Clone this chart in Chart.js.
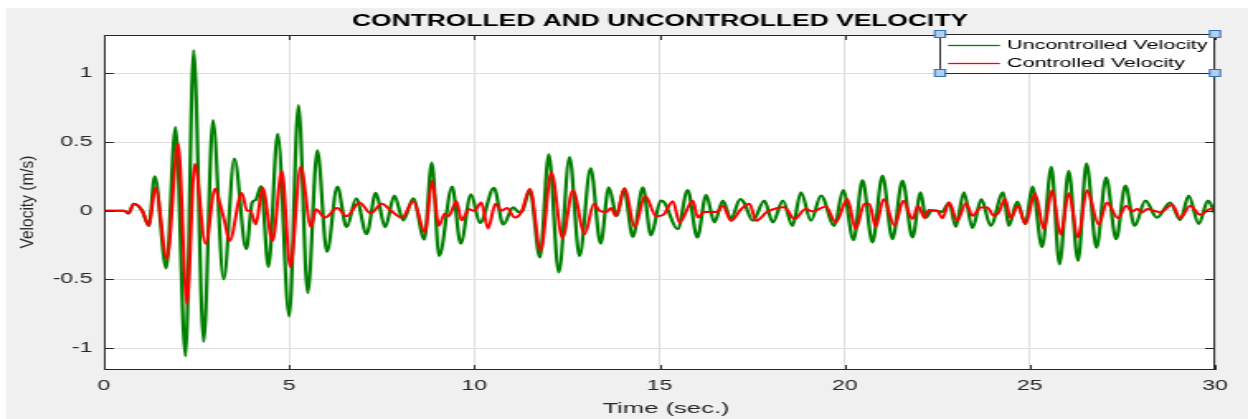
<!DOCTYPE html>
<html>
<head>
<meta charset="utf-8">
<title>Controlled and Uncontrolled Velocity</title>
<script src="https://cdn.jsdelivr.net/npm/chart.js@4.4.1/dist/chart.umd.min.js"></script>
<style>
  html, body { margin: 0; padding: 0; background: #fff; }
  #velocityChart { display: block; width: 1248px; height: 419px; }
</style>
</head>
<body>
<canvas id="velocityChart" width="756" height="419" style="width:1248px;height:419px"></canvas>
<script>
// time (s) / velocity (m/s)
const timeUncontrolled = [0, 0.55, 0.66, 0.80, 1.03, 1.21, 1.37, 1.68, 1.93, 2.20, 2.42, 2.69, 2.94, 3.23, 3.52, 3.84, 4.00, 4.10, 4.24, 4.44, 4.69, 5.00, 5.25, 5.50, 5.76, 6.02, 6.30, 6.55, 6.81, 7.09, 7.34, 7.59, 7.84, 8.08, 8.35, 8.65, 8.85, 9.05, 9.40, 9.63, 9.91, 10.15, 10.53, 10.78, 11.05, 11.20, 11.30, 11.50, 11.77, 12.01, 12.28, 12.57, 12.84, 13.14, 13.41, 13.63, 13.85, 14.04, 14.28, 14.55, 14.77, 15.03, 15.13, 15.49, 15.76, 16.02, 16.26, 16.48, 16.71, 16.93, 17.18, 17.28, 17.52, 17.83, 18.06, 18.33, 18.59, 18.82, 19.09, 19.36, 19.72, 19.96, 20.24, 20.48, 20.75, 21.02, 21.29, 21.56, 21.83, 22.05, 22.19, 22.35, 22.50, 22.62, 22.82, 23.00, 23.22, 23.45, 23.69, 23.94, 24.28, 24.43, 24.66, 24.88, 25.07, 25.33, 25.58, 25.80, 26.05, 26.30, 26.53, 26.80, 27.06, 27.33, 27.58, 27.83, 28.12, 28.43, 28.79, 29.06, 29.29, 29.56, 29.81, 30.0];
const velUncontrolled = [0, 0, -0.02, 0.05, 0, -0.11, 0.25, -0.42, 0.61, -1.06, 1.17, -0.955, 0.66, -0.50, 0.38, -0.28, 0.06, 0.08, 0.18, -0.41, 0.56, -0.77, 0.77, -0.60, 0.44, -0.30, 0.175, -0.12, 0.09, -0.17, 0.13, -0.12, 0.11, -0.07, 0.09, -0.21, 0.35, -0.33, 0.175, -0.24, 0.12, -0.09, 0.166, -0.10, 0.025, -0.01, 0.0, 0.15, -0.34, 0.41, -0.45, 0.39, -0.33, 0.31, -0.24, 0.17, -0.04, 0.16, -0.19, 0.17, -0.18, 0.073, 0.06, -0.134, 0.15, -0.195, 0.115, -0.085, 0.073, -0.06, 0.085, 0.06, -0.073, 0.073, -0.085, 0.073, -0.11, 0.134, -0.073, 0.11, -0.11, 0.15, -0.214, 0.224, -0.23, 0.256, -0.207, 0.22, -0.195, 0.134, -0.05, 0.0, 0.0, -0.01, 0.06, -0.117, 0.134, -0.127, 0.085, -0.11, 0.134, -0.11, 0.066, -0.097, 0.175, -0.265, 0.32, -0.39, 0.29, -0.365, 0.346, -0.27, 0.244, -0.207, 0.183, -0.11, 0.073, -0.05, 0.06, -0.068, 0.11, -0.097, 0.073, -0.02];

const timeControlled = [0, 0.55, 0.66, 0.80, 1.03, 1.21, 1.39, 1.70, 2.00, 2.24, 2.45, 2.74, 3.00, 3.12, 3.25, 3.39, 3.72, 3.86, 3.95, 4.10, 4.28, 4.55, 4.80, 5.03, 5.31, 5.59, 5.72, 5.97, 6.30, 6.55, 6.90, 7.20, 7.50, 7.75, 8.05, 8.35, 8.67, 8.86, 9.04, 9.20, 9.30, 9.52, 9.65, 9.86, 10.00, 10.19, 10.37, 10.57, 10.73, 10.88, 11.09, 11.27, 11.50, 11.79, 12.08, 12.38, 12.66, 12.98, 13.23, 13.38, 13.56, 13.69, 13.82, 14.06, 14.33, 14.61, 14.91, 15.10, 15.36, 15.54, 15.90, 16.03, 16.20, 16.55, 16.71, 16.93, 17.20, 17.43, 17.61, 17.90, 18.37, 18.64, 18.95, 19.13, 19.49, 19.76, 20.07, 20.30, 20.53, 20.66, 20.84, 21.05, 21.35, 21.58, 21.83, 21.98, 22.16, 22.27, 22.50, 22.64, 22.82, 23.04, 23.27, 23.45, 23.68, 23.85, 24.03, 24.16, 24.33, 24.48, 24.68, 24.88, 25.14, 25.38, 25.60, 25.83, 26.05, 26.30, 26.54, 26.86, 27.08, 27.38, 27.60, 27.76, 27.90, 28.03, 28.17, 28.35, 28.52, 28.84, 29.06, 29.33, 29.60, 29.87, 30.00];
const velControlled = [0, 0, -0.02, 0.05, 0, -0.11, 0.17, -0.35, 0.49, -0.68, 0.34, -0.24, 0.16, 0.06, -0.07, -0.22, 0.13, 0.0, 0.0, -0.10, 0.17, -0.22, 0.29, -0.41, 0.32, -0.12, 0.01, -0.05, 0.02, -0.04, 0.06, -0.02, 0.05, 0.0, -0.05, 0.07, -0.16, 0.22, -0.11, -0.02, -0.04, 0.07, -0.07, 0.01, 0.0, 0.06, -0.13, 0.05, 0.0, 0.02, -0.05, -0.01, 0.16, -0.29, 0.28, -0.20, 0.15, -0.17, 0.05, 0.0, -0.01, 0.02, -0.04, 0.165, -0.12, 0.11, -0.04, -0.03, 0.07, -0.085, 0.073, -0.05, -0.01, -0.01, 0.037, -0.073, 0.01, 0.05, -0.073, -0.01, 0.025, -0.06, 0.012, -0.005, 0.03, -0.085, 0.085, -0.134, 0.05, 0.05, -0.117, 0.085, -0.11, 0.073, -0.06, 0.037, -0.054, 0.005, 0.0, -0.054, 0.06, -0.073, 0.054, -0.037, 0.024, 0.024, -0.037, -0.012, 0.085, -0.054, 0.037, -0.097, 0.127, -0.134, 0.15, -0.175, 0.127, -0.195, 0.15, -0.10, 0.06, -0.054, 0.037, -0.005, 0.012, -0.012, 0.012, 0.0, -0.012, 0.044, -0.054, 0.037, -0.03, 0.012, 0.005];

const xTicks = [0, 5, 10, 15, 20, 25, 30];
const yTicks = [-1, -0.5, 0, 0.5, 1];

const titleText = "CONTROLLED AND UNCONTROLLED VELOCITY";
const xLabel = "Time (sec.)";
const yLabel = "Velocity (m/s)";

// the original figure is stretched sideways; draw narrow and let CSS widen it
const S = 1248 / 756;
const FONT = '"Liberation Sans", Arial, Helvetica, sans-serif';

const toPoints = (ts, vs) => ts.map((t, i) => ({ x: t, y: vs[i] }));

function line(ctx, x1, y1, x2, y2) {
  ctx.beginPath();
  ctx.moveTo(x1, y1);
  ctx.lineTo(x2, y2);
  ctx.stroke();
}

const figurePlugin = {
  id: "matlabFigure",
  beforeDraw(chart) {
    const { ctx, chartArea: a, width, height } = chart;
    ctx.save();
    ctx.fillStyle = "#ffffff";
    ctx.fillRect(0, 0, width, height);
    ctx.fillStyle = "#f0f0f0";
    ctx.fillRect(6 / S, 8, width, height);
    ctx.fillStyle = "#ffffff";
    ctx.fillRect(a.left, a.top, a.right - a.left, a.bottom - a.top);
    ctx.restore();
  },
  afterDraw(chart) {
    const { ctx, chartArea: a, scales } = chart;
    ctx.save();

    // axes box + inward ticks
    ctx.strokeStyle = "#262626";
    ctx.lineWidth = 1;
    ctx.strokeRect(a.left + 0.5, a.top + 0.5, a.right - a.left - 1, a.bottom - a.top - 1);
    xTicks.forEach((v) => {
      const x = Math.round(scales.x.getPixelForValue(v)) + 0.5;
      line(ctx, x, a.bottom, x, a.bottom - 5);
      line(ctx, x, a.top, x, a.top + 5);
    });
    yTicks.forEach((v) => {
      const y = Math.round(scales.y.getPixelForValue(v)) + 0.5;
      line(ctx, a.left, y, a.left + 6, y);
      line(ctx, a.right, y, a.right - 6, y);
    });

    // title and axis labels
    ctx.textAlign = "center";
    ctx.textBaseline = "middle";
    ctx.fillStyle = "#000000";
    ctx.font = "bold 16px " + FONT;
    ctx.fillText(titleText, 660 / S, 22);

    ctx.fillStyle = "#262626";
    ctx.font = "15.5px " + FONT;
    ctx.fillText(xLabel, 666 / S, 409);

    ctx.save();
    ctx.translate(27 / S, 202);
    ctx.scale(1.25 / S, 1); // y label is only slightly widened in the original
    ctx.rotate(-Math.PI / 2);
    ctx.fillText(yLabel, 0, 0);
    ctx.restore();

    // legend (top right, inside axes)
    const lx0 = 940 / S, lx1 = a.right, ly0 = 34, ly1 = 73;
    ctx.fillStyle = "#ffffff";
    ctx.fillRect(lx0, ly0, lx1 - lx0, ly1 - ly0);
    ctx.strokeStyle = "#262626";
    ctx.strokeRect(Math.round(lx0) + 0.5, ly0 + 0.5, Math.round(lx1 - lx0) - 1, ly1 - ly0);
    const rows = [45.5, 63.5];
    ctx.textAlign = "left";
    ctx.font = "13px " + FONT;
    chart.data.datasets.forEach((ds, i) => {
      ctx.strokeStyle = ds.borderColor;
      ctx.lineWidth = 1.3;
      line(ctx, 948 / S, rows[i], 1000 / S, rows[i]);
      ctx.fillStyle = "#000000";
      ctx.fillText(ds.label, 1007 / S, rows[i]);
    });

    // selection handles on the legend corners
    ctx.fillStyle = "#aed0f2";
    ctx.strokeStyle = "#2f6fb5";
    ctx.lineWidth = 1;
    [[lx0, ly0], [lx1, ly0], [lx0, ly1], [lx1, ly1]].forEach(([x, y]) => {
      ctx.fillRect(x - 3.2, y - 3.5, 6.4, 7);
      ctx.strokeRect(x - 3.2, y - 3.5, 6.4, 7);
    });

    ctx.restore();
  },
};

new Chart(document.getElementById("velocityChart"), {
  type: "line",
  data: {
    datasets: [
      {
        label: "Uncontrolled Velocity",
        data: toPoints(timeUncontrolled, velUncontrolled),
        borderColor: "#008000",
        borderWidth: 2.2,
        order: 1,
      },
      {
        label: "Controlled Velocity",
        data: toPoints(timeControlled, velControlled),
        borderColor: "#ff0000",
        borderWidth: 2,
        order: 0,
      },
    ],
  },
  options: {
    responsive: false,
    animation: false,
    devicePixelRatio: 1,
    events: [],
    layout: { padding: { left: 0, top: 35, right: 20, bottom: 0 } },
    elements: {
      point: { radius: 0 },
      line: { cubicInterpolationMode: "monotone", fill: false },
    },
    plugins: {
      legend: { display: false },
      title: { display: false },
      tooltip: { enabled: false },
    },
    scales: {
      x: {
        type: "linear",
        min: 0,
        max: 30,
        afterBuildTicks: (s) => { s.ticks = xTicks.map((v) => ({ value: v })); },
        afterFit: (s) => { s.height = 49; },
        grid: { color: "#dedede", drawTicks: false },
        border: { display: false },
        ticks: {
          padding: 8,
          color: "#262626",
          font: { family: FONT, size: 14 },
          callback: (v) => String(v),
        },
      },
      y: {
        type: "linear",
        min: -1.16,
        max: 1.28,
        afterBuildTicks: (s) => { s.ticks = yTicks.map((v) => ({ value: v })); },
        afterFit: (s) => { s.width = 63; },
        grid: { color: "#dedede", drawTicks: false },
        border: { display: false },
        ticks: {
          padding: 7,
          color: "#262626",
          font: { family: FONT, size: 14 },
          callback: (v) => String(v),
        },
      },
    },
  },
  plugins: [figurePlugin],
});
</script>
</body>
</html>
